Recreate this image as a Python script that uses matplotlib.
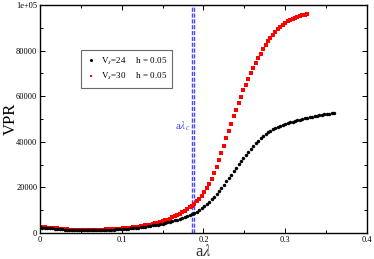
import numpy as np
import matplotlib
matplotlib.use("Agg")
import matplotlib.pyplot as plt
from matplotlib.ticker import MultipleLocator, FuncFormatter

plt.rcParams['font.family'] = ['Liberation Serif', 'DejaVu Serif']
plt.rcParams['mathtext.fontset'] = 'stix'

# a*lambda grid (step 0.003)
x_vs24 = np.round(np.arange(0, 121) * 0.003, 3)
x_vs30 = np.round(np.arange(0, 110) * 0.003, 3)

vpr_vs24 = [
    2500, 2400, 2300, 2200, 2100, 2000, 1900, 1800, 1700, 1600,
    1500, 1400, 1300, 1250, 1200, 1150, 1100, 1100, 1100, 1100,
    1100, 1150, 1150, 1200, 1200, 1250, 1300, 1350, 1400, 1450,
    1500, 1550, 1600, 1650, 1700, 1800, 1900, 2000, 2100, 2200,
    2300, 2450, 2600, 2750, 2900, 3100, 3300, 3500, 3700, 3900,
    4100, 4400, 4700, 5000, 5300, 5600, 5900, 6200, 6600, 7000,
    7400, 7800, 8200, 8700, 9300, 10000, 10800, 11700, 12600, 13600,
    14700, 15800, 17000, 18300, 19700, 21100, 22600, 24100, 25600, 27100,
    28600, 30100, 31600, 33000, 34400, 35700, 37000, 38200, 39400, 40500,
    41500, 42400, 43300, 44100, 44800, 45500, 46100, 46700, 47100, 47500,
    47800, 48200, 48500, 48800, 49100, 49400, 49700, 50000, 50300, 50500,
    50800, 51000, 51200, 51400, 51600, 51800, 52000, 52200, 52400, 52500,
    52700,
]

vpr_vs30 = [
    2700, 2600, 2500, 2400, 2300, 2200, 2100, 2000, 1900, 1800,
    1700, 1600, 1500, 1450, 1400, 1350, 1300, 1300, 1250, 1250,
    1250, 1300, 1300, 1350, 1400, 1450, 1500, 1550, 1600, 1650,
    1700, 1750, 1800, 1900, 2000, 2100, 2200, 2300, 2450, 2600,
    2750, 2900, 3100, 3300, 3500, 3700, 3950, 4200, 4500, 4800,
    5100, 5500, 5900, 6300, 6800, 7300, 7800, 8400, 9000, 9700,
    10400, 11200, 12000, 12900, 13900, 15000, 16300, 17800, 19600, 21600,
    23800, 26200, 28900, 31800, 35000, 38300, 41600, 44800, 48000, 51100,
    54100, 57000, 59800, 62500, 65100, 67600, 70000, 72300, 74500, 76600,
    78600, 80500, 82300, 84000, 85500, 86900, 88200, 89400, 90400, 91300,
    92100, 92800, 93400, 93900, 94400, 94800, 95200, 95500, 95800, 96000,
]

critical_x = [0.1863, 0.1888]
labels = ["V$_s$=24     h = 0.05", "V$_s$=30     h = 0.05"]

fig = plt.figure(figsize=(3.74, 2.59), dpi=100)
ax = fig.add_axes([0.107, 0.1004, 0.874, 0.8803])

blue = '#4a4aff'
for cx in critical_x:
    ax.axvline(cx, color=blue, lw=1.0, dashes=(3, 1.2), zorder=1)

ax.plot(x_vs24, vpr_vs24, 'o', color='black', ms=2.5, mew=0, label=labels[0], zorder=3)
ax.plot(x_vs30, vpr_vs30, 's', color='red', ms=2.3, mew=0, label=labels[1], zorder=2)

ax.text(0.184, 47000, r"a$\lambda_c$", color=blue, fontsize=8, ha='right', va='center')

ax.set_xlim(0, 0.4)
ax.set_ylim(0, 100000)
ax.xaxis.set_major_locator(MultipleLocator(0.1))
ax.xaxis.set_minor_locator(MultipleLocator(0.05))
ax.yaxis.set_major_locator(MultipleLocator(20000))
ax.yaxis.set_minor_locator(MultipleLocator(10000))
ax.xaxis.set_major_formatter(FuncFormatter(lambda v, p: "0" if abs(v) < 1e-9 else f"{v:g}"))
ax.yaxis.set_major_formatter(FuncFormatter(lambda v, p: "1e+05" if v >= 99999 else f"{int(round(v))}"))
ax.tick_params(which='both', direction='in', top=True, right=True, labelsize=6, pad=2, width=0.7)
ax.tick_params(which='major', length=3.5)
ax.tick_params(which='minor', length=2)
for s in ax.spines.values():
    s.set_linewidth(1.0)

ax.set_xlabel(r"a$\lambda$", fontsize=12, labelpad=0, color='#333333')
ax.set_ylabel("VPR", fontsize=12)
ax.yaxis.set_label_coords(-0.064, 0.5)

leg = ax.legend(loc='upper left', bbox_to_anchor=(0.125, 0.803), borderaxespad=0,
                fontsize=6.5, frameon=True,
                fancybox=False, edgecolor='#444444', handlelength=1.0, handletextpad=0.6,
                borderpad=0.6, labelspacing=0.5, markerscale=0.9)
leg.get_frame().set_linewidth(0.8)

fig.savefig("out.png", dpi=100)
